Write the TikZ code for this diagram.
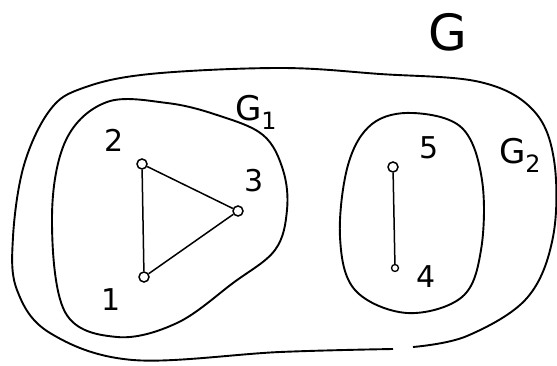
\documentclass[tikz,border=0pt]{standalone}
\usepackage{fontspec}
\setsansfont{DejaVu Sans}
\begin{document}
\begin{tikzpicture}[x=1pt,y=-1pt,
  outline/.style={line width=1.9pt,line join=round},
  vtx/.style={circle,draw,line width=1.5pt,inner sep=0pt,minimum size=10pt},
  vtxs/.style={circle,draw,line width=1.3pt,inner sep=0pt,minimum size=7pt},
  edge/.style={line width=1.5pt},
  lbl/.style={font=\sffamily\fontsize{30}{30}\selectfont,inner sep=0pt},
  glbl/.style={font=\sffamily\fontsize{34}{34}\selectfont,inner sep=0pt}]
\useasboundingbox (0,0) rectangle (557,366);
% outer G region (open at the bottom, as drawn)
\draw[outline] plot[smooth,tension=0.6] coordinates {(393,349) (280,352) (133,360) (50,333) (17,290) (13,237) (24,165) (50,110) (83,88) (150,74) (280,68) (380,74) (480,82) (533,110) (554,160) (553,237) (527,298) (467,336) (413,347)};
% G1 region
\draw[outline] plot[smooth cycle,tension=0.6] coordinates {(107,102) (167,103) (217,115) (263,135) (283,170) (287,210) (275,250) (233,283) (177,323) (117,337) (65,312) (52,217) (66,140)};
% G2 region
\draw[outline] plot[smooth cycle,tension=0.6] coordinates {(413,113) (462,128) (482,180) (481,250) (462,297) (407,313) (355,290) (340,237) (348,165) (372,124)};
% vertices
\node[vtx] (v1) at (144,277) {};
\node[vtx] (v2) at (142,164) {};
\node[vtx] (v3) at (238,211) {};
\node[vtx] (v5) at (393,167) {};
\node[vtxs] (v4) at (395,268) {};
% edges
\draw[edge] (v1) -- (v2);
\draw[edge] (v2) -- (v3);
\draw[edge] (v3) -- (v1);
\draw[edge] (v5) -- (v4);
% labels
\node[lbl] (l1) at (111,300) {1};
\node[lbl] (l2) at (114,140) {2};
\node[lbl] (l3) at (254,181) {3};
\node[lbl] (l4) at (426,277) {4};
\node[lbl] (l5) at (429,148) {5};
\node[font=\sffamily\fontsize{50}{50}\selectfont,inner sep=0pt] (g) at (448,32) {G};
\node[glbl] (g1) at (256,112) {G\textsubscript{1}};
\node[glbl] (g2) at (520,155) {G\textsubscript{2}};
\end{tikzpicture}
\end{document}
